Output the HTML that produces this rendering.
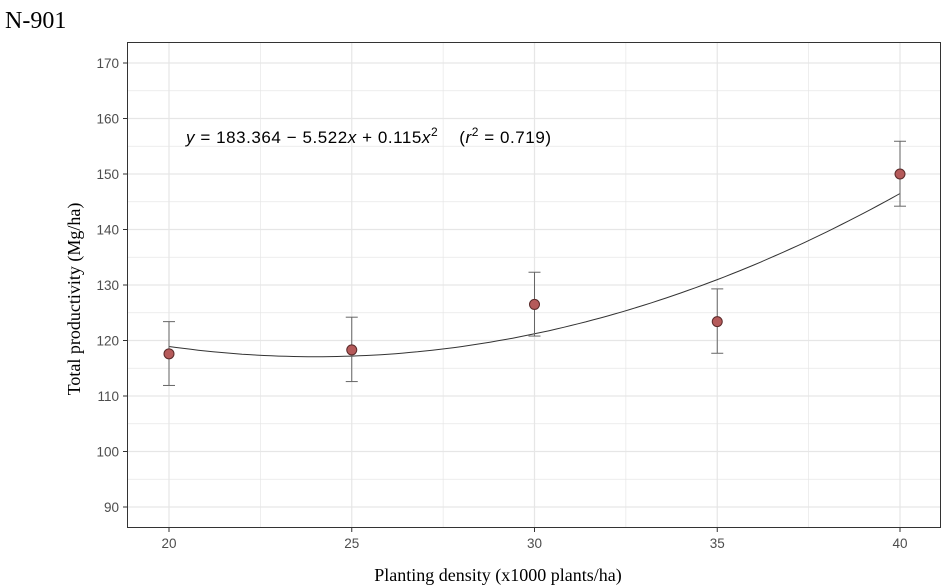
<!DOCTYPE html>
<html><head><meta charset="utf-8"><style>
body{margin:0;background:#fff;}
svg{display:block;font-family:"Liberation Sans",sans-serif;}
</style></head><body>
<svg id="c" width="951" height="585">
<text x="5" y="28" font-family="Liberation Serif" font-size="24" fill="#000">N-901</text>
<g id="grid"></g>
<g id="marks"></g>
<rect x="127.5" y="42.5" width="813" height="485" fill="none" stroke="#333" stroke-width="1"/>
<g id="axes"></g>
<text x="186" y="143" font-size="17" fill="#000" textLength="365" lengthAdjust="spacing" xml:space="preserve"><tspan font-style="italic">y</tspan> = 183.364 − 5.522<tspan font-style="italic">x</tspan> + 0.115<tspan font-style="italic">x</tspan><tspan dy="-7" font-size="12">2</tspan><tspan dy="7">    (</tspan><tspan font-style="italic">r</tspan><tspan dy="-7" font-size="12">2</tspan><tspan dy="7"> = 0.719)</tspan></text>
<text x="498" y="581" text-anchor="middle" font-family="Liberation Serif" font-size="18">Planting density (x1000 plants/ha)</text>
<text transform="translate(80,299) rotate(-90)" text-anchor="middle" font-family="Liberation Serif" font-size="18">Total productivity (Mg/ha)</text>
</svg>
<script>
const densities=[20,25,30,35,40];
const means=[117.6,118.3,126.5,123.4,150.0];
const errLow=[111.9,112.6,120.8,117.7,144.2];
const errHigh=[123.4,124.2,132.3,129.3,155.9];
const coef=[183.364,-5.522,0.115];
const xTicks=[20,25,30,35,40];
const yTicks=[90,100,110,120,130,140,150,160,170];
const NS="http://www.w3.org/2000/svg";
const X=v=>169+(v-20)*36.55;
const Y=v=>63+(170-v)*5.55;
function mk(t,a,p){const e=document.createElementNS(NS,t);for(const k in a)e.setAttribute(k,a[k]);p.appendChild(e);return e;}
const grid=document.getElementById('grid'),marks=document.getElementById('marks'),axes=document.getElementById('axes');
for(let v=85;v<=175;v+=5){const y=Y(v);if(y<43||y>527)continue;const l=mk('line',{x1:128,x2:940,y1:y,y2:y,stroke:'#e6e6e6','stroke-width':v%10===0?1.2:0.7},grid);}
for(let v=17.5;v<=42.5;v+=2.5){const x=X(v);if(x<128||x>940)continue;const l=mk('line',{x1:x,x2:x,y1:43,y2:527,stroke:'#e6e6e6','stroke-width':v%5===0?1.2:0.7},grid);}
yTicks.forEach(v=>{const y=Y(v);const t=mk('line',{x1:123,x2:127,y1:y,y2:y,stroke:'#333'},axes);
const s=mk('text',{x:119,y:y+5,'text-anchor':'end','font-size':13.5,fill:'#4d4d4d'},axes);s.textContent=v;});
xTicks.forEach(v=>{const x=X(v);const t=mk('line',{x1:x,x2:x,y1:528,y2:532,stroke:'#333'},axes);
const s=mk('text',{x:x,y:548,'text-anchor':'middle','font-size':13.5,fill:'#4d4d4d'},axes);s.textContent=v;});
let d='';for(let i=0;i<=100;i++){const x=20+i*0.2;const y=coef[0]+coef[1]*x+coef[2]*x*x;d+=(i?'L':'M')+X(x).toFixed(1)+','+Y(y).toFixed(1);}
const fit=mk('path',{d:d,fill:'none',stroke:'#333','stroke-width':1},marks);
densities.forEach((v,i)=>{const x=X(v);const g=mk('g',{},marks);
mk('line',{x1:x,x2:x,y1:Y(errLow[i]),y2:Y(errHigh[i]),stroke:'#666'},g);
mk('line',{x1:x-6,x2:x+6,y1:Y(errLow[i]),y2:Y(errLow[i]),stroke:'#666'},g);
mk('line',{x1:x-6,x2:x+6,y1:Y(errHigh[i]),y2:Y(errHigh[i]),stroke:'#666'},g);
mk('circle',{cx:x,cy:Y(means[i]),r:5,fill:'#b55a5a',stroke:'#5a2a2a','stroke-width':1},g);});
</script>
</body></html>
